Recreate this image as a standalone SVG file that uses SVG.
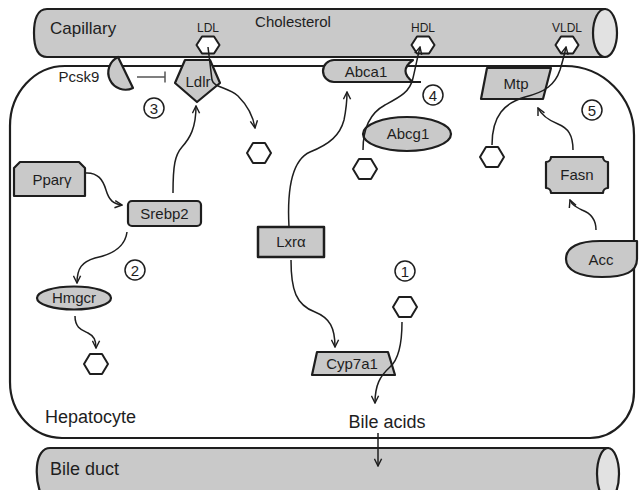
<svg xmlns="http://www.w3.org/2000/svg" width="640" height="490" viewBox="0 0 640 490">
  <defs>
    <marker id="ah" viewBox="0 0 10 10" refX="9" refY="5" markerWidth="9" markerHeight="9" orient="auto" markerUnits="userSpaceOnUse">
      <path d="M1,1 L9,5 L1,9" fill="none" stroke="#1e1e1e" stroke-width="1.6"/>
    </marker>
    <style>
      text { font-family: "Liberation Sans", Arial, sans-serif; fill: #1e1e1e; }
      .shape { fill: #c9c9c9; stroke: #1e1e1e; stroke-width: 2.2; stroke-linejoin: round; }
      .cap { fill: #e2e2e2; stroke: #1e1e1e; stroke-width: 2.2; }
      .mol { fill: #ffffff; stroke: #1e1e1e; stroke-width: 2; stroke-linejoin: round; }
      .cell { fill: none; stroke: #1e1e1e; stroke-width: 2.2; }
      .edge { fill: none; stroke: #1e1e1e; stroke-width: 1.5; marker-end: url(#ah); }
      .inh { fill: none; stroke: #555; stroke-width: 1.5; }
      .num { fill: #fff; stroke: #1e1e1e; stroke-width: 1.5; }
      .lbl { font-size: 15px; text-anchor: middle; }
      .big { font-size: 18px; }
      .small { font-size: 12px; text-anchor: middle; }
      .digit { font-size: 15px; text-anchor: middle; }
    </style>
  </defs>

  <!-- blood vessel at the top -->
  <g id="capillary">
    <path class="shape" d="M47,9 L605,9 L605,57 L47,57 C37,57 34,46 34,33 C34,20 37,9 47,9 Z"/>
    <ellipse class="cap" cx="605" cy="33" rx="12" ry="24"/>
    <text class="big" x="50" y="34" style="font-size:17px">Capillary</text>
    <text x="293" y="27" style="font-size:15px" text-anchor="middle">Cholesterol</text>
  </g>

  <!-- bile duct at the bottom -->
  <g id="bile-duct">
    <path class="shape" d="M50,448 L608,448 L608,500 L44,500 C38,490 36,478 37,466 C38,455 43,448 50,448 Z"/>
    <ellipse class="cap" cx="608" cy="474" rx="11" ry="26"/>
    <text class="big" x="50" y="475">Bile duct</text>
  </g>

  <!-- liver cell outline -->
  <g id="hepatocyte">
    <path class="cell" d="M65,66 L565,66 A69 69 0 0 1 634,135 L634,392 A44 46 0 0 1 590,438 L62,438 A52 56 0 0 1 10,382 L10,126 A55 60 0 0 1 65,66 Z"/>
    <text class="big" x="45" y="423">Hepatocyte</text>
  </g>

  <!-- lipoprotein particles in the capillary -->
  <g id="ldl">
    <text class="small" x="208" y="32">LDL</text>
    <polygon class="mol" points="196.5,45 202,36.5 214,36.5 219.5,45 214,53.5 202,53.5"/>
  </g>
  <g id="hdl">
    <text class="small" x="423" y="32">HDL</text>
    <polygon class="mol" points="411.5,45 417,36.5 429,36.5 434.5,45 429,53.5 417,53.5"/>
  </g>
  <g id="vldl">
    <text class="small" x="567" y="32">VLDL</text>
    <polygon class="mol" points="555.5,45 561,36.5 573,36.5 578.5,45 573,53.5 561,53.5"/>
  </g>

  <!-- membrane proteins -->
  <g id="pcsk9">
    <path class="shape" d="M118,57 L133,88 A17.2 17.2 0 0 1 118,57 Z"/>
    <text class="lbl" x="79" y="82" style="text-anchor:middle">Pcsk9</text>
  </g>
  <g id="ldlr">
    <polygon class="shape" points="185,60 210,60 220,83 197,102 175,83"/>
    <text class="lbl" x="198" y="87">Ldlr</text>
  </g>
  <g id="abca1">
    <path class="shape" d="M334,60 L413,60 Q398,71 413,82 L334,82 A11 11 0 0 1 334,60 Z"/>
    <line x1="412" y1="82" x2="421" y2="82" stroke="#1e1e1e" stroke-width="2"/>
    <text class="lbl" x="366" y="77">Abca1</text>
  </g>
  <g id="mtp">
    <polygon class="shape" points="487,68 551,68 543,99 481,99"/>
    <text class="lbl" x="516" y="89">Mtp</text>
  </g>

  <!-- intracellular factors -->
  <g id="ppary">
    <path class="shape" d="M20,162 L79,162 L85,168 L85,196 L14,196 L14,168 Z"/>
    <text class="lbl" x="52" y="185">Pparγ</text>
  </g>
  <g id="srebp2">
    <rect class="shape" x="128" y="201" width="73" height="25" rx="4"/>
    <text class="lbl" x="164.5" y="219">Srebp2</text>
  </g>
  <g id="hmgcr">
    <ellipse class="shape" cx="74" cy="298" rx="37" ry="11.5"/>
    <text class="lbl" x="74" y="303">Hmgcr</text>
  </g>
  <g id="lxra">
    <rect class="shape" x="258" y="227" width="66" height="30" style="stroke-width:2.5"/>
    <text class="lbl" x="291" y="247">Lxrα</text>
  </g>
  <g id="cyp7a1">
    <polygon class="shape" points="317,352 388,352 395,375 312,375"/>
    <text class="lbl" x="352" y="369">Cyp7a1</text>
  </g>
  <g id="abcg1">
    <ellipse class="shape" cx="407" cy="134" rx="44" ry="17"/>
    <text class="lbl" x="408" y="139">Abcg1</text>
  </g>
  <g id="fasn">
    <path class="shape" d="M551,157 L603,157 A5 5 0 0 0 608,162 L608,188 A5 5 0 0 0 603,193 L551,193 A5 5 0 0 0 546,188 L546,162 A5 5 0 0 0 551,157 Z"/>
    <text class="lbl" x="577" y="180">Fasn</text>
  </g>
  <g id="acc">
    <path class="shape" d="M637,241 L637,259 C637,272 625,277 602,277 C579,277 566,270 566,259 C566,247 579,241 600,241 Z"/>
    <text class="lbl" x="601" y="265">Acc</text>
  </g>

  <!-- free cholesterol inside the cell -->
  <g id="chol-ldlr"><polygon class="mol" points="247,153 253,143 265,143 271,153 265,163 253,163"/></g>
  <g id="chol-hmgcr"><polygon class="mol" points="84,364 90,354 102,354 108,364 102,374 90,374"/></g>
  <g id="chol-cyp"><polygon class="mol" points="393,307 399,297 411,297 417,307 411,317 399,317"/></g>
  <g id="chol-abcg1"><polygon class="mol" points="353,169 359,159 371,159 377,169 371,179 359,179"/></g>
  <g id="chol-mtp"><polygon class="mol" points="480,157 486,147 498,147 504,157 498,167 486,167"/></g>

  <!-- numbered pathways -->
  <g id="step-1"><circle class="num" cx="405" cy="271" r="10"/><text class="digit" x="405" y="276.5">1</text></g>
  <g id="step-2"><circle class="num" cx="135" cy="270" r="10"/><text class="digit" x="135" y="275.5">2</text></g>
  <g id="step-3"><circle class="num" cx="154" cy="108" r="10"/><text class="digit" x="154" y="113.5">3</text></g>
  <g id="step-4"><circle class="num" cx="433" cy="95" r="10"/><text class="digit" x="433" y="100.5">4</text></g>
  <g id="step-5"><circle class="num" cx="592" cy="110" r="10"/><text class="digit" x="592" y="115.5">5</text></g>

  <!-- Bile acids label -->
  <g id="bile-acids">
    <text class="big" x="387" y="428" text-anchor="middle">Bile acids</text>
  </g>

  <!-- connectors -->
  <g id="connectors">
    <path class="inh" d="M137,77 L165,77 M165,71.5 L165,82.5"/>
    <path class="edge" d="M208,47 L212,80 C214,88 228,87 238,96 C248,106 253,115 255,128"/>
    <path class="edge" d="M173,193 C173,165 175,155 182,147 C190,138 196,128 196,106"/>
    <path class="edge" d="M85,173 C98,172 103,180 106,190 C109,200 113,204 122,205"/>
    <path class="edge" d="M127,232 C125,248 110,255 95,258 C82,262 77,268 77,283"/>
    <path class="edge" d="M75,316 C75,328 82,330 88,333 C94,336 96,340 96,348"/>
    <path class="edge" d="M289,227 C287,190 292,160 310,152 C330,144 340,135 344,120 C346,110 347,100 347,92"/>
    <path class="edge" d="M291,260 C291,290 296,305 315,312 C330,318 335,328 335,347"/>
    <path class="edge" d="M402,322 C402,345 398,360 390,367 C380,376 375,385 375,403"/>
    <path class="edge" d="M378,433 L378,466"/>
    <path class="edge" d="M363,150 C363,125 372,112 385,105 C400,97 410,92 413,78 C416,65 418,55 420,47"/>
    <path class="edge" d="M492,145 C492,115 505,103 525,97 C545,92 555,85 560,70 C563,60 565,52 566,47"/>
    <path class="edge" d="M573,150 C573,135 568,128 558,124 C548,120 542,116 538,108"/>
    <path class="edge" d="M596,230 C596,218 590,213 582,210 C576,207 572,205 570,200"/>
  </g>
</svg>
